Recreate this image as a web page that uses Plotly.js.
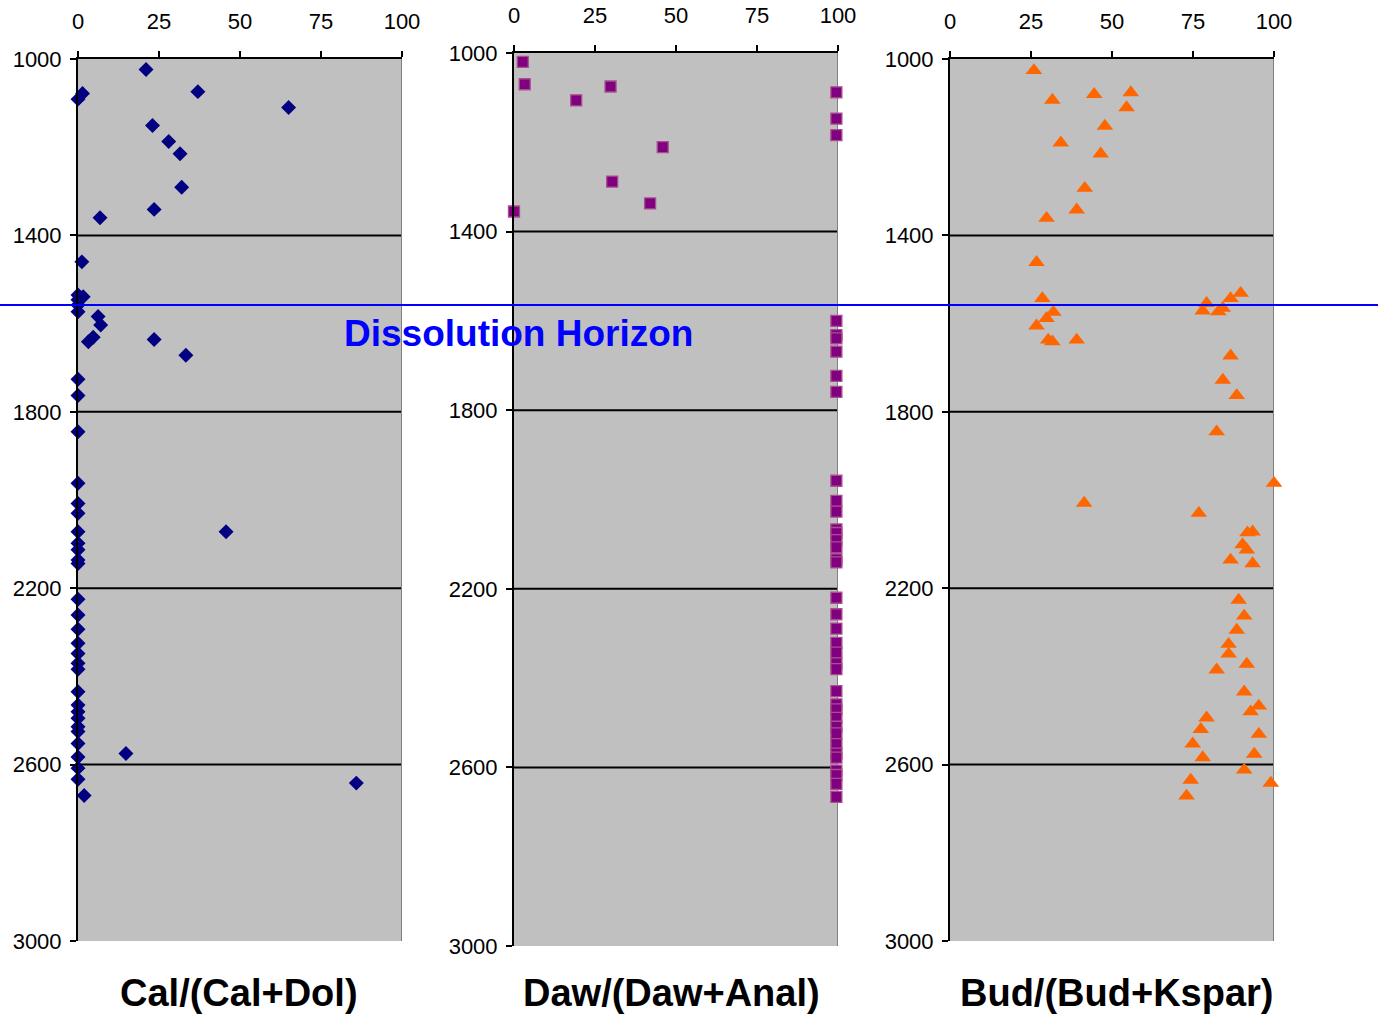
<!DOCTYPE html>
<html>
<head>
<meta charset="utf-8">
<script src="https://cdn.plot.ly/plotly-3.0.1.min.js"></script>
<style>
html,body{margin:0;padding:0;background:#fff;}
#chart{width:1378px;height:1016px;}
</style>
</head>
<body>
<div id="chart"></div>
<script>
// ---- Data (depth, ratio in %) ----
const calDepth = [1024,1074,1078,1091,1110,1151,1187,1215,1291,1341,1360,1460,1535,1539,1546,1558,1573,1584,1603,1631,1641,1636,1672,1726,1763,1845,1962,2008,2030,2072,2072,2098,2113,2136,2144,2225,2261,2293,2325,2348,2370,2384,2435,2465,2480,2495,2514,2525,2552,2575,2583,2608,2633,2642,2670];
const calValue = [21,37,1.4,0,65,23,28,31.5,32,23.5,6.8,1.2,0,1.6,0,0,0,6.2,7,4.7,3.2,23.5,33.3,0,0,0,0,0,0,0,45.7,0,0,0,0,0,0,0,0,0,0,0,0,0,0,0,0,0,0,14.8,0,0,0,85.9,1.9];

const dawDepth = [1020,1070,1075,1088,1106,1147,1184,1211,1288,1337,1355,1600,1632,1639,1669,1723,1759,1958,2003,2027,2067,2075,2091,2107,2134,2141,2220,2257,2289,2321,2343,2367,2380,2429,2459,2470,2489,2509,2524,2548,2569,2578,2607,2617,2637,2666];
const dawValue = [2.7,3.3,29.8,99.5,19.2,99.5,99.5,45.9,30.3,42,0,99.5,99.5,99.5,99.5,99.5,99.5,99.5,99.5,99.5,99.5,99.5,99.5,99.5,99.5,99.5,99.5,99.5,99.5,99.5,99.5,99.5,99.5,99.5,99.5,99.5,99.5,99.5,99.5,99.5,99.5,99.5,99.5,99.5,99.5,99.5];

const budDepth = [1026,1076,1080,1093,1110,1152,1190,1215,1293,1342,1361,1461,1531,1543,1543,1554,1565,1571,1573,1574,1588,1605,1637,1641,1637,1673,1728,1763,1845,1962,2007,2030,2072,2074,2101,2113,2136,2144,2227,2263,2295,2327,2349,2372,2385,2435,2467,2480,2494,2520,2531,2553,2576,2584,2612,2635,2642,2671];
const budValue = [25.9,55.8,44.5,31.6,54.5,47.8,34.2,46.5,41.6,39.1,29.8,26.7,89.7,86.6,28.5,79.2,84.2,78,82.8,31.9,29.8,26.7,30.3,31.6,39.1,86.6,84.2,88.5,82.3,100,41.4,76.8,93.4,91.8,90.3,91.6,86.6,93.4,89.1,90.8,88.5,86,86,91.6,82.3,90.8,95.3,92.8,79.2,77.4,95.3,74.9,93.9,78,90.8,74.3,99,73];

const panelTitles = ['Cal/(Cal+Dol)','Daw/(Daw+Anal)','Bud/(Bud+Kspar)'];
const xTicks = [0,25,50,75,100];
const yTicks = [1000,1400,1800,2200,2600,3000];
const horizonLabel = 'Dissolution Horizon';

// ---- Layout geometry (pixels) ----
const W = 1378, H = 1016;
const px = v => v / W;
const py = v => 1 - v / H;

const traces = [
  {x: calValue, y: calDepth, xaxis:'x', yaxis:'y', mode:'markers', type:'scatter', cliponaxis:false,
   marker:{symbol:'diamond', size:11.5, color:'#000080', line:{width:0}}},
  {x: dawValue, y: dawDepth, xaxis:'x2', yaxis:'y2', mode:'markers', type:'scatter', cliponaxis:false,
   marker:{symbol:'square', size:11, color:'#800080', line:{width:1.3, color:'#A8508E'}}},
  {x: budValue, y: budDepth, xaxis:'x3', yaxis:'y3', mode:'markers', type:'scatter', cliponaxis:false,
   marker:{symbol:'triangle-up', size:14.5, color:'#FF6600', line:{width:0}}}
];

const tickFont = {family:'Liberation Sans, Arial, sans-serif', size:22, color:'#000'};

function xAxis(d0, d1, anchor) {
  return {domain:[px(d0), px(d1)], anchor:anchor, side:'top', range:[0,100],
    tickvals:xTicks, ticktext:xTicks.map(String), ticks:'outside', ticklen:6, tickwidth:2, tickcolor:'#000',
    showline:true, linecolor:'#000', linewidth:2, showgrid:false, zeroline:false,
    tickfont:tickFont, ticklabelstandoff:13, fixedrange:true};
}
function yAxis(t, b, anchor) {
  return {domain:[py(b), py(t)], anchor:anchor, range:[3000,1000],
    tickvals:yTicks, ticktext:yTicks.map(String), ticks:'outside', ticklen:6, tickwidth:2, tickcolor:'#000',
    showline:true, linecolor:'#000', linewidth:2, showgrid:false, zeroline:false,
    tickfont:tickFont, ticklabelstandoff:4, fixedrange:true};
}

const shapes = [];
const axesIds = [['x','y'],['x2','y2'],['x3','y3']];
axesIds.forEach(([xa, ya]) => {
  yTicks.slice(1, -1).forEach(d => {
    shapes.push({type:'line', xref: xa + ' domain', yref: ya, x0:0, x1:1, y0:d, y1:d,
      line:{color:'#000', width:2}, layer:'below'});
  });
  shapes.push({type:'line', xref: xa, yref: ya + ' domain', x0:100, x1:100, y0:0, y1:1,
    line:{color:'#808080', width:2}, layer:'below'});
});
// dissolution horizon line
shapes.push({type:'line', xref:'paper', yref:'paper', x0:0, x1:1, y0:py(305), y1:py(305),
  line:{color:'#0000FF', width:2}});

const annFont = {family:'Liberation Sans, Arial, sans-serif', size:38, color:'#000'};
const annotations = [
  {text:'<b>'+panelTitles[0]+'</b>', xref:'paper', yref:'paper', x:px(239), y:py(993), xanchor:'center', yanchor:'middle', showarrow:false, font:annFont},
  {text:'<b>'+panelTitles[1]+'</b>', xref:'paper', yref:'paper', x:px(671), y:py(993), xanchor:'center', yanchor:'middle', showarrow:false, font:annFont},
  {text:'<b>'+panelTitles[2]+'</b>', xref:'paper', yref:'paper', x:px(1117), y:py(993), xanchor:'center', yanchor:'middle', showarrow:false, font:annFont},
  {text:'<b>'+horizonLabel+'</b>', xref:'paper', yref:'paper', x:px(518), y:py(333), xanchor:'center', yanchor:'middle', showarrow:false,
   font:{family:'Liberation Sans, Arial, sans-serif', size:37, color:'#0000FF'}}
];

const layout = {
  width: W, height: H,
  margin:{l:0, r:0, t:0, b:0},
  paper_bgcolor:'#FFFFFF',
  plot_bgcolor:'#C0C0C0',
  showlegend:false,
  xaxis: xAxis(78, 402, 'y'),
  yaxis: yAxis(59, 941, 'x'),
  xaxis2: xAxis(514, 838, 'y2'),
  yaxis2: yAxis(53, 946, 'x2'),
  xaxis3: xAxis(950, 1274, 'y3'),
  yaxis3: yAxis(59, 941, 'x3'),
  shapes: shapes,
  annotations: annotations
};

Plotly.newPlot('chart', traces, layout, {displayModeBar:false, staticPlot:true});
</script>
</body>
</html>
